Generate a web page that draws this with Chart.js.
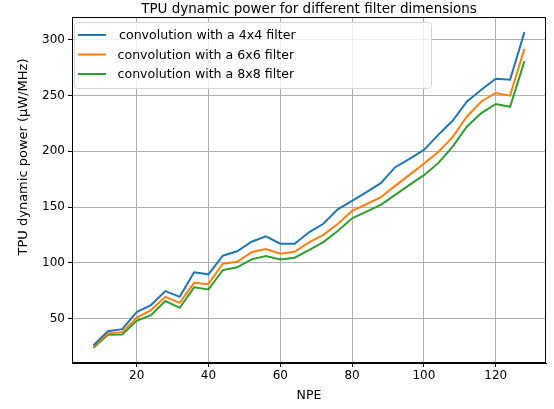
<!DOCTYPE html>
<html>
<head>
<meta charset="utf-8">
<script src="https://cdn.jsdelivr.net/npm/chart.js@4"></script>
<style>
  body { margin: 0; background: #fff; }
  #wrap { width: 554px; height: 409px; }
</style>
</head>
<body>
<div id="wrap"><canvas id="powerChart" width="554" height="409"></canvas></div>
<script>
// NPE values (x axis)
const npe = [8, 12, 16, 20, 24, 28, 32, 36, 40, 44, 48, 52, 56, 60, 64, 68, 72, 76, 80, 84, 88, 92, 96, 100, 104, 108, 112, 116, 120, 124, 128];

// dynamic power per filter size (µW/MHz)
const power4x4 = [26, 38.6, 40.4, 55.7, 62, 74.5, 69.4, 91.4, 89.6, 106.3, 110.3, 118.9, 123.7, 117.1, 117.1, 127.3, 135, 148, 155.5, 163.3, 171.4, 185.8, 193.3, 201.3, 214.8, 227.4, 244.8, 255.3, 265.2, 264.3, 307];
const power6x6 = [24.9, 36.5, 37.7, 50.5, 57.5, 69.4, 64, 82, 80.8, 99.1, 100.9, 109.4, 112.3, 108.1, 109.9, 118.3, 125, 134.8, 146.5, 152.5, 158.8, 169, 178.9, 188.8, 199.5, 212.8, 231.3, 244.8, 252.4, 250, 292];
const power8x8 = [23.6, 35.3, 35.6, 47.8, 53, 65.6, 59.5, 77.9, 76, 93.4, 95.9, 103, 106, 103, 104.5, 111.4, 118.5, 128.5, 139.9, 145.9, 151.9, 160.9, 169.9, 178.6, 189.4, 204.3, 222.3, 234.3, 242.5, 240, 281];

const seriesLabels = ['convolution with a 4x4 filter', 'convolution with a 6x6 filter', 'convolution with a 8x8 filter'];
const xTicks = [20, 40, 60, 80, 100, 120];
const yTicks = [50, 100, 150, 200, 250, 300];

const FONT = 'DejaVu Sans';

function toPoints(ys) {
    return npe.map((x, i) => ({ x: x, y: ys[i] }));
}

// frame, title, y label and in-plot legend like matplotlib
const extras = {
    id: 'extras',
    afterDraw(chart) {
        const ctx = chart.ctx;
        const a = chart.chartArea;
        ctx.save();
        ctx.strokeStyle = '#000';
        ctx.lineWidth = 1;
        ctx.strokeRect(a.left + 0.5, a.top + 0.5, a.right - a.left - 1, a.bottom - a.top - 1);

        ctx.fillStyle = '#000';
        ctx.font = '13.5px "' + FONT + '"';
        ctx.textAlign = 'center';
        ctx.textBaseline = 'alphabetic';
        ctx.fillText('TPU dynamic power for different filter dimensions', (a.left + a.right) / 2, a.top - 4);

        // y axis label (sits higher than the plot centre in the original)
        ctx.save();
        ctx.translate(24, 157);
        ctx.rotate(-Math.PI / 2);
        ctx.font = '13px "' + FONT + '"';
        ctx.textBaseline = 'middle';
        ctx.fillText('TPU dynamic power (µW/MHz)', 0, 0);
        ctx.restore();

        // legend box
        const bx = a.left + 2, by = a.top + 5, bw = 357, bh = 66;
        ctx.fillStyle = 'rgba(255,255,255,0.8)';
        ctx.strokeStyle = '#d6d6d6';
        ctx.beginPath();
        ctx.roundRect(bx + 0.5, by + 0.5, bw, bh, 3);
        ctx.fill();
        ctx.stroke();
        ctx.font = '12.6px "' + FONT + '"';
        ctx.textAlign = 'left';
        ctx.textBaseline = 'middle';
        chart.data.datasets.forEach((ds, i) => {
            const yy = by + 13 + i * 19.5;
            ctx.strokeStyle = ds.borderColor;
            ctx.lineWidth = 2;
            ctx.beginPath();
            ctx.moveTo(bx + 4, yy);
            ctx.lineTo(bx + 32, yy);
            ctx.stroke();
            ctx.fillStyle = '#000';
            ctx.fillText(ds.label, bx + (i === 0 ? 45 : 43.5), yy + 1);
        });
        ctx.restore();
    }
};

const ctx = document.getElementById('powerChart').getContext('2d');
new Chart(ctx, {
    type: 'line',
    data: {
        datasets: [
            { label: seriesLabels[0], data: toPoints(power4x4), borderColor: '#1f77b4' },
            { label: seriesLabels[1], data: toPoints(power6x6), borderColor: '#ff7f0e' },
            { label: seriesLabels[2], data: toPoints(power8x8), borderColor: '#2ca02c' }
        ]
    },
    options: {
        responsive: false,
        animation: false,
        devicePixelRatio: 1,
        layout: { padding: { top: 17, right: 8, left: 0, bottom: 0 } },
        elements: {
            line: { borderWidth: 2, tension: 0, fill: false },
            point: { radius: 0 }
        },
        plugins: {
            legend: { display: false },
            title: { display: false },
            tooltip: { enabled: false }
        },
        scales: {
            x: {
                type: 'linear',
                min: 2,
                max: 134,
                afterBuildTicks: s => { s.ticks = xTicks.map(v => ({ value: v })); },
                afterFit: s => { s.height = 46; },
                grid: { color: '#b0b0b0', lineWidth: 1, tickLength: 4, tickColor: '#000' },
                border: { display: true, color: '#000' },
                ticks: { color: '#000', font: { family: FONT, size: 12 }, padding: 2, maxRotation: 0 },
                title: { display: true, text: 'NPE', color: '#000', font: { family: FONT, size: 12.5 }, padding: { top: 2, bottom: 6 } }
            },
            y: {
                min: 10,
                max: 320.6,
                afterBuildTicks: s => { s.ticks = yTicks.map(v => ({ value: v })); },
                afterFit: s => { s.width = 72; },
                grid: { color: '#b0b0b0', lineWidth: 1, tickLength: 4, tickColor: '#000' },
                border: { display: true, color: '#000' },
                ticks: { color: '#000', font: { family: FONT, size: 12 }, padding: 3 }
            }
        }
    },
    plugins: [extras]
});
</script>
</body>
</html>
